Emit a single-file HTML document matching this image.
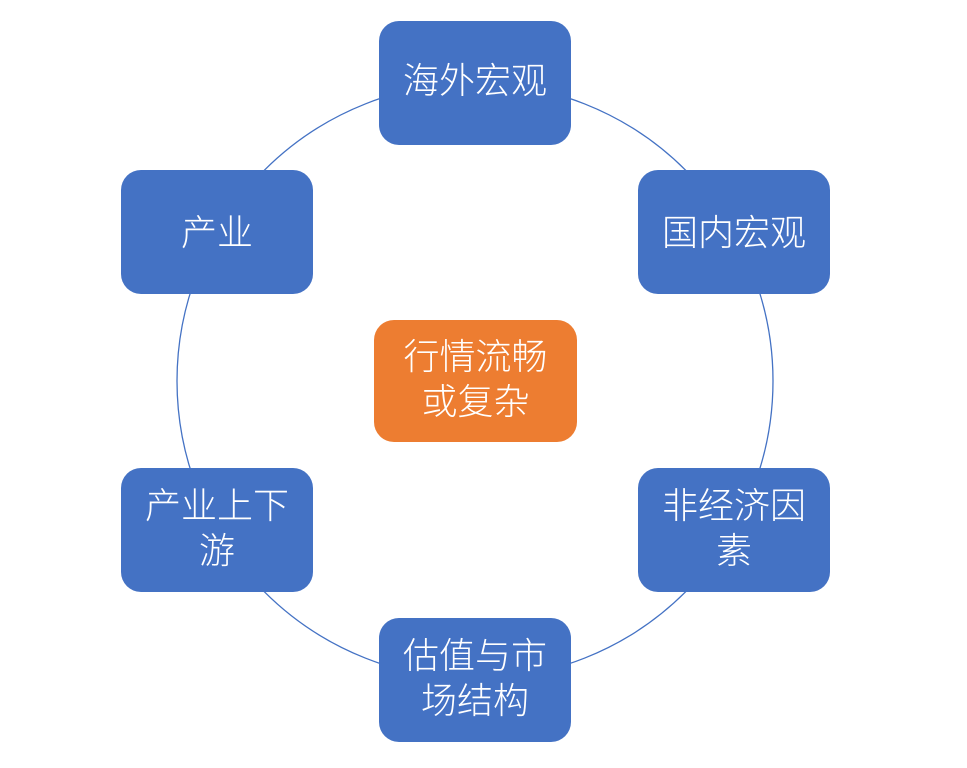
<!DOCTYPE html>
<html><head><meta charset="utf-8"><style>
body{margin:0;width:967px;height:768px;background:#fff;position:relative;overflow:hidden;font-family:"Liberation Sans","Noto Sans CJK SC",sans-serif}
.b{position:absolute;width:192px;height:124px;background:#4472C4;border-radius:20px;color:#fff;font-size:36px;line-height:45px;display:flex;align-items:center;justify-content:center;text-align:center;box-sizing:border-box;font-weight:300}
svg{position:absolute;left:0;top:0}
</style></head><body>
<svg width="967" height="768"><circle cx="475" cy="381" r="298" fill="none" stroke="#4472C4" stroke-width="1.3"/></svg>
<div class="b" style="left:379px;top:21px;padding-bottom:6px">海外宏观</div>
<div class="b" style="left:638px;top:170px">国内宏观</div>
<div class="b" style="left:638px;top:468px;padding-bottom:4px">非经济因<br>素</div>
<div class="b" style="left:379px;top:618px;padding-bottom:4px">估值与市<br>场结构</div>
<div class="b" style="left:121px;top:468px;padding-bottom:4px">产业上下<br>游</div>
<div class="b" style="left:121px;top:170px">产业</div>
<div class="b" style="left:374px;top:320px;width:203px;height:122px;background:#ED7D31;padding-bottom:4px">行情流畅<br>或复杂</div>
</body></html>
